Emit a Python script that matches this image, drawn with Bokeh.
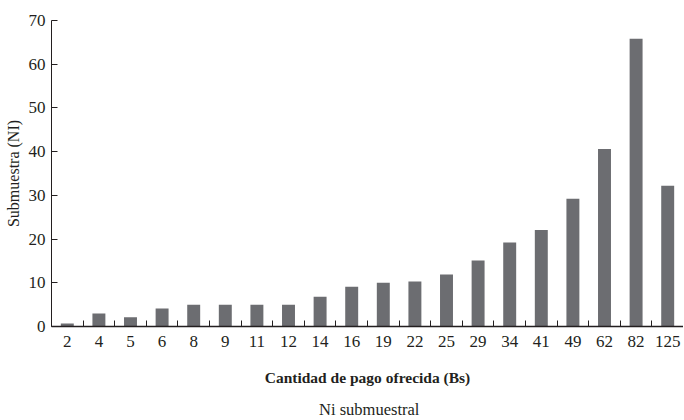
from bokeh.plotting import figure
from bokeh.layouts import column
from bokeh.models import FixedTicker, Legend, LegendItem, Range1d, CDSView, IndexFilter
from bokeh.embed import file_html
from bokeh.resources import INLINE

categories = ["2", "4", "5", "6", "8", "9", "11", "12", "14", "16",
              "19", "22", "25", "29", "34", "41", "49", "62", "82", "125"]
values = [0.7, 3.0, 2.1, 4.1, 5.0, 5.0, 5.0, 5.0, 6.8, 9.1,
          10.0, 10.3, 11.9, 15.1, 19.2, 22.1, 29.2, 40.6, 65.8, 32.2]
y_ticks = [0, 10, 20, 30, 40, 50, 60, 70]
series_name = "Ni submuestral"
x_title = "Cantidad de pago ofrecida (Bs)"
y_title = "Submuestra (NI)"

n = len(categories)
positions = list(range(1, n + 1))
boundaries = [i + 0.5 for i in range(n + 1)]

FONT = "Liberation Serif"
TXT = "#231f20"
BAR = "#6c6d71"

p = figure(frame_width=632, frame_height=306, x_range=Range1d(0.5, n + 0.5), y_range=Range1d(0, 70),
           output_backend="svg", toolbar_location=None,
           min_border_left=51, min_border_top=20, min_border_right=0, min_border_bottom=72)
p.grid.visible = False
p.outline_line_color = None
p.background_fill_color = "white"
p.border_fill_color = "white"

r = p.vbar(x=positions, top=values, width=0.41, fill_color=BAR, line_color=None)

# x axis
xa = p.xaxis[0]
xa.ticker = FixedTicker(ticks=positions, minor_ticks=boundaries)
xa.major_label_overrides = {pos: lab for pos, lab in zip(positions, categories)}
xa.major_tick_line_color = None
xa.major_tick_out = 6
xa.minor_tick_in = 6
xa.minor_tick_out = 0
xa.minor_tick_line_color = TXT
xa.minor_tick_line_width = 1
xa.axis_line_color = TXT
xa.axis_line_width = 1.5
xa.major_label_text_font = FONT
xa.major_label_text_font_size = "17px"
xa.major_label_text_color = TXT
xa.major_label_standoff = 3
xa.axis_label = x_title
xa.axis_label_text_font = FONT
xa.axis_label_text_font_size = "15.5px"
xa.axis_label_text_font_style = "bold"
xa.axis_label_text_color = TXT
xa.axis_label_standoff = 19

# y axis
ya = p.yaxis[0]
ya.ticker = FixedTicker(ticks=y_ticks)
ya.major_tick_in = 6
ya.major_tick_out = 0
ya.major_tick_line_color = TXT
ya.minor_tick_line_color = None
ya.axis_line_color = TXT
ya.axis_line_width = 1
ya.major_label_text_font = FONT
ya.major_label_text_font_size = "17px"
ya.major_label_text_color = TXT
ya.major_label_standoff = 6
ya.axis_label = y_title
ya.axis_label_text_font = FONT
ya.axis_label_text_font_size = "16px"
ya.axis_label_text_font_style = "normal"
ya.axis_label_text_color = TXT
ya.axis_label_standoff = 4

# legend strip below the chart
p2 = figure(width=683, height=22, x_range=Range1d(1000, 1001), y_range=Range1d(0, 1),
            x_axis_type=None, y_axis_type=None, output_backend="svg", toolbar_location=None,
            min_border_left=51, min_border_right=0, min_border_top=0, min_border_bottom=0)
p2.grid.visible = False
p2.outline_line_color = None
p2.background_fill_color = "white"
p2.border_fill_color = "white"
r2 = p2.vbar(x=positions, top=values, width=0.41, fill_color=BAR, line_color=None,
             view=CDSView(filter=IndexFilter(indices=[])))

legend = Legend(items=[LegendItem(label=series_name, renderers=[r2])],
                location=(255, 0), orientation="horizontal",
                border_line_color=None, background_fill_alpha=0,
                label_text_font=FONT, label_text_font_size="16.5px", label_text_color=TXT,
                glyph_width=11, glyph_height=11, padding=0, margin=0, spacing=0,
                label_standoff=2, label_height=16)
p2.add_layout(legend, "center")

layout = column(p, p2, spacing=0)
open("out.html", "w").write(file_html(layout, INLINE))
